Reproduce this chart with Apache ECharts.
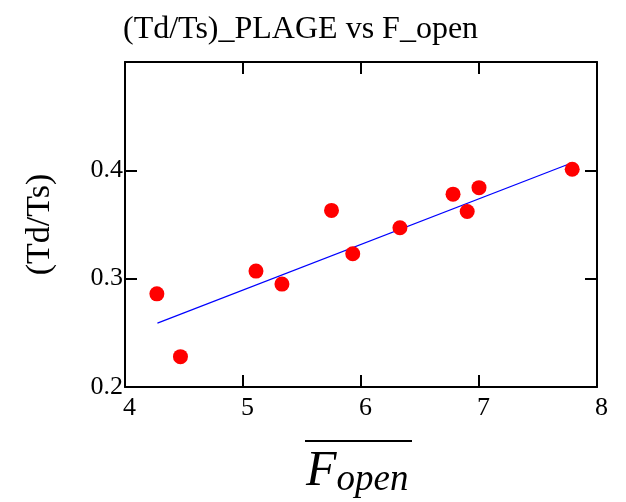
<!DOCTYPE html>
<html>
<head>
<meta charset="utf-8">
<script src="https://cdn.jsdelivr.net/npm/echarts@6/dist/echarts.min.js"></script>
<style>
  html, body { margin: 0; padding: 0; background: #fff; }
  #chart { width: 626px; height: 502px; }
</style>
</head>
<body>
<div id="chart"></div>
<script>
// measured points
var fOpen = [4.27, 4.47, 5.11, 5.33, 5.75, 5.93, 6.33, 6.78, 6.90, 7.00, 7.79];
var tdTs = [0.286, 0.228, 0.307, 0.295, 0.363, 0.323, 0.347, 0.378, 0.362, 0.384, 0.401];
// fitted line end points
var fitX = [4.275, 7.79];
var fitY = [0.259, 0.407];

var serif = '"Liberation Serif", "DejaVu Serif", serif';

var chart = echarts.init(document.getElementById('chart'));

var pts = fOpen.map(function (x, i) { return [x, tdTs[i]]; });
var fit = fitX.map(function (x, i) { return [x, fitY[i]]; });

function frameAxis(pos, isX) {
    return {
        type: 'value',
        position: pos,
        min: isX ? 4 : 0.2,
        max: isX ? 8 : 0.5,
        interval: isX ? 1 : 0.1,
        splitLine: { show: false },
        axisLine: { show: true, onZero: false, lineStyle: { color: '#000', width: 2 } },
        axisTick: { show: true, inside: true, length: 12, lineStyle: { color: '#000', width: 2 } },
        axisLabel: { show: false }
    };
}

var xMain = frameAxis('bottom', true);
xMain.axisLabel = {
    show: true, color: '#000', fontFamily: serif, fontSize: 26, margin: 8,
    padding: [0, 0, 0, 9]
};
var yMain = frameAxis('left', false);
yMain.axisLabel = {
    show: true, color: '#000', fontFamily: serif, fontSize: 26, margin: 2,
    padding: [8, 0, 0, 0],
    showMaxLabel: false,
    formatter: function (v) { return v.toFixed(1); }
};
yMain.name = '(Td/Ts)';
yMain.nameLocation = 'middle';
yMain.nameGap = 68;
yMain.nameTextStyle = { color: '#000', fontFamily: serif, fontSize: 34 };

chart.setOption({
    backgroundColor: '#fff',
    animation: false,
    title: {
        text: '(Td/Ts)_PLAGE vs F_open',
        left: 118,
        top: 9,
        textStyle: { color: '#000', fontFamily: serif, fontSize: 32, fontWeight: 'normal' }
    },
    grid: { left: 125, right: 29, top: 62, bottom: 115 },
    xAxis: [xMain, frameAxis('top', true)],
    yAxis: [yMain, frameAxis('right', false)],
    graphic: [
        {
            type: 'line',
            shape: { x1: 305, y1: 441, x2: 412, y2: 441 },
            style: { stroke: '#000', lineWidth: 2 }
        },
        {
            type: 'text',
            left: 306,
            top: 447,
            style: {
                text: '{f|F}{s|open}',
                rich: {
                    f: { fontFamily: serif, fontStyle: 'italic', fontSize: 50, fill: '#000' },
                    s: { fontFamily: serif, fontStyle: 'italic', fontSize: 37, fill: '#000', padding: [16, 0, 0, 0] }
                }
            }
        }
    ],
    series: [
        {
            type: 'line',
            data: fit,
            symbol: 'none',
            lineStyle: { color: '#0000ff', width: 1.2 },
            z: 2
        },
        {
            type: 'scatter',
            data: pts,
            symbol: 'circle',
            symbolSize: 15,
            itemStyle: { color: '#ff0000', opacity: 1 },
            z: 3
        }
    ]
});
</script>
</body>
</html>
